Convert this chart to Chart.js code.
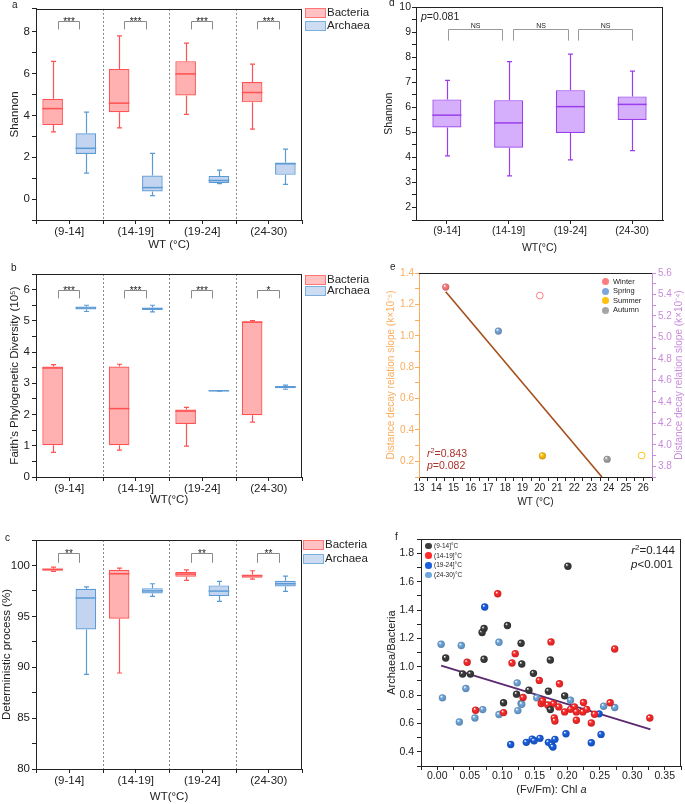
<!DOCTYPE html>
<html>
<head>
<meta charset="utf-8">
<script src="https://cdn.jsdelivr.net/npm/chart.js@4.4.1/dist/chart.umd.min.js"></script>
<style>
  body { margin: 0; background: #fff; font-family: 'Liberation Sans', Arial, sans-serif; }
  #fig { position: relative; width: 685px; height: 804px; overflow: hidden; }
  canvas { position: absolute; }
  .t { position: absolute; white-space: nowrap; color: #222; line-height: 1; transform: translateY(-50%); }
  .t sup { font-size: 70%; position: relative; top: -0.1em; vertical-align: top; line-height: 1; }
</style>
</head>
<body>
<div id="fig">
  <canvas id="ca" width="310" height="262" style="left:0;top:0"></canvas>
  <canvas id="cb" width="310" height="265" style="left:0;top:265px"></canvas>
  <canvas id="cc" width="310" height="274" style="left:0;top:530px"></canvas>
  <canvas id="cd" width="345" height="262" style="left:340px;top:0"></canvas>
  <canvas id="ce" width="345" height="265" style="left:340px;top:265px"></canvas>
  <canvas id="cf" width="345" height="274" style="left:340px;top:530px"></canvas>
</div>
<script>
// ---- data ----
const wtGroups = ['(9-14]', '(14-19]', '(19-24]', '(24-30)'];

// box summaries: [min, q1, median, q3, max]
const shannonBacteria = [[3.22, 3.54, 4.33, 4.80, 6.59], [3.41, 4.16, 4.59, 6.23, 7.81], [4.05, 4.96, 5.99, 6.60, 7.46], [3.35, 4.63, 5.10, 5.60, 6.46]];
const shannonArchaea = [[1.24, 2.16, 2.43, 3.15, 4.16], [0.17, 0.36, 0.55, 1.13, 2.19], [0.74, 0.77, 0.89, 1.11, 1.39], [0.70, 1.16, 1.69, 1.75, 2.39]];
const faithBacteria = [[0.79, 1.02, 3.49, 3.54, 3.60], [0.86, 1.02, 2.19, 3.54, 3.61], [0.99, 1.70, 2.11, 2.16, 2.23], [1.76, 1.98, 4.96, 4.98, 5.01]];
const faithArchaea = [[5.30, 5.36, 5.41, 5.46, 5.50], [5.29, 5.35, 5.39, 5.43, 5.50], [2.75, 2.755, 2.76, 2.765, 2.77], [2.81, 2.84, 2.88, 2.91, 2.94]];
const detBacteria = [[99.41, 99.48, 99.61, 99.71, 99.84], [89.43, 94.76, 99.18, 99.57, 99.74], [98.53, 98.89, 99.15, 99.35, 99.57], [98.66, 98.79, 98.99, 99.12, 99.48]];
const detArchaea = [[89.3, 93.7, 96.8, 97.7, 97.9], [96.96, 97.25, 97.5, 97.77, 98.2], [96.46, 96.99, 97.48, 98.04, 98.43], [97.45, 97.94, 98.2, 98.49, 98.95]];
const shannonAll = [[4.06, 5.20, 5.69, 6.32, 7.08], [3.26, 4.39, 5.38, 6.29, 7.83], [3.90, 4.98, 6.03, 6.69, 8.13], [4.27, 5.50, 6.12, 6.44, 7.45]];

const sigShannon = ['***', '***', '***', '***'];
const sigFaith = ['***', '***', '***', '*'];
const sigDet = ['**', '', '**', '**'];
const sigAll = ['NS', 'NS', 'NS'];

// panel e
const seasons = ['Winter', 'Spring', 'Summer', 'Autumn'];
const seasonWT = [14.55, 17.6, 20.15, 23.9];
const slopeBacteria = [1.31, 1.03, 0.235, 0.213];
const archaeaSeasonIdx = [0, 2];
const archaeaWT = [20.0, 25.9];
const slopeArchaea = [5.39, 3.90];
const fitWT = [14.55, 23.6];
const fitSlope = [1.28, 0.10];

// panel f
const chl9_14 = [0.013, 0.039, 0.051, 0.069, 0.072, 0.072, 0.102, 0.108, 0.129, 0.130, 0.122, 0.141, 0.148, 0.174, 0.171, 0.174, 0.196, 0.201];
const ratio9_14 = [1.062, 0.949, 0.949, 1.242, 1.270, 1.053, 0.746, 1.292, 1.166, 1.020, 0.807, 0.835, 0.954, 1.048, 0.828, 0.698, 0.795, 1.710];
const chl14_19 = [0.093, 0.046, 0.059, 0.102, 0.115, 0.120, 0.132, 0.157, 0.175, 0.188, 0.273, 0.327, 0.160, 0.162, 0.179, 0.187, 0.196, 0.180, 0.181, 0.225, 0.211, 0.214, 0.214, 0.224, 0.237, 0.242, 0.266, 0.170, 0.205, 0.230];
const ratio14_19 = [1.516, 1.032, 0.694, 0.677, 1.027, 1.093, 0.783, 0.904, 1.176, 0.880, 1.126, 0.639, 0.741, 0.760, 0.739, 0.717, 0.682, 0.639, 0.618, 0.748, 0.717, 0.682, 0.623, 0.682, 0.604, 0.665, 0.746, 0.730, 0.700, 0.700];
const chl19_24 = [0.073, 0.113, 0.137, 0.146, 0.149, 0.158, 0.171, 0.176, 0.178, 0.181, 0.198, 0.237, 0.252, 0.249];
const ratio19_24 = [1.422, 0.452, 0.467, 0.490, 0.478, 0.495, 0.467, 0.448, 0.434, 0.488, 0.528, 0.464, 0.523, 0.668];
const chl24_30 = [0.006, 0.008, 0.034, 0.037, 0.044, 0.058, 0.070, 0.095, 0.095, 0.123, 0.124, 0.129, 0.130, 0.153, 0.205, 0.256, 0.273, 0.172];
const ratio24_30 = [1.159, 0.781, 0.611, 1.150, 0.847, 0.639, 0.698, 1.173, 0.663, 0.887, 0.691, 0.741, 0.736, 0.781, 0.764, 0.722, 0.713, 0.720];
const fitChl = [0.006, 0.328];
const fitRatio = [1.008, 0.559];

// ---- styles ----
const ink = '#222';
const bac = { fill: 'rgba(255,100,100,0.5)', line: '#ff5252' };
const arc = { fill: 'rgba(120,160,220,0.45)', line: '#5b9bd5' };
const pur = { fill: 'rgba(180,110,250,0.55)', line: '#9a3deb' };
const orange = '#fbac5c';
const violet = '#c98bdb';
const seasonColors = ['#ff7c82', '#7ba7dd', '#ffc20e', '#a5a5a5'];
const groupColors = ['#3c3c3c', '#ff2a2a', '#1a5fe0', '#6fa8dc'];

Chart.defaults.font.family = "'Liberation Sans', Arial, sans-serif";
Chart.defaults.color = ink;

// ---- plugins ----
const boxPlugin = {
  id: 'boxes',
  afterDatasetsDraw(chart) {
    const ctx = chart.ctx;
    chart.data.datasets.forEach((ds, i) => {
      if (!ds.stats) return;
      const meta = chart.getDatasetMeta(i);
      const ys = chart.scales[meta.yAxisID];
      meta.data.forEach((bar, j) => {
        const p = ds.stats[j].map(v => ys.getPixelForValue(v));
        const x = Math.round(bar.x) + 0.5, hw = bar.width / 2;
        ctx.save();
        ctx.strokeStyle = ds.borderColor;
        ctx.lineWidth = 1.2;
        ctx.beginPath();
        ctx.moveTo(x, p[3]); ctx.lineTo(x, p[4]);
        ctx.moveTo(x, p[1]); ctx.lineTo(x, p[0]);
        ctx.moveTo(x - 2.5, p[4]); ctx.lineTo(x + 2.5, p[4]);
        ctx.moveTo(x - 2.5, p[0]); ctx.lineTo(x + 2.5, p[0]);
        ctx.stroke();
        ctx.lineWidth = 1.5;
        ctx.beginPath();
        ctx.moveTo(bar.x - hw, p[2]); ctx.lineTo(bar.x + hw, p[2]);
        ctx.stroke();
        ctx.restore();
      });
    });
  }
};

const sepPlugin = {
  id: 'separators',
  beforeDatasetsDraw(chart, args, opts) {
    if (!opts.show) return;
    const xs = chart.scales.x, a = chart.chartArea, ctx = chart.ctx;
    const n = chart.data.labels.length;
    ctx.save();
    ctx.strokeStyle = '#8a8a8a';
    ctx.lineWidth = 1;
    ctx.setLineDash([2, 2]);
    ctx.beginPath();
    for (let i = 1; i < n; i++) {
      const px = Math.round(xs.getPixelForValue(i - 0.5)) + 0.5;
      ctx.moveTo(px, a.top); ctx.lineTo(px, a.bottom);
    }
    ctx.stroke();
    ctx.setLineDash([]);
    ctx.strokeStyle = ink;
    ctx.beginPath();
    for (let i = 0; i <= n; i++) {
      const px = Math.round(xs.getPixelForValue(i - 0.5)) + 0.5;
      ctx.moveTo(px, a.bottom); ctx.lineTo(px, a.bottom + 4);
    }
    ctx.stroke();
    ctx.restore();
  }
};

const sigPlugin = {
  id: 'sig',
  afterDraw(chart, args, opts) {
    if (!opts.labels) return;
    const xs = chart.scales.x, ys = chart.scales.y, ctx = chart.ctx;
    const spans = opts.spans || opts.labels.map((_, j) => [j - 0.17, j + 0.15]);
    ctx.save();
    ctx.strokeStyle = opts.color || '#8a8a8a';
    ctx.fillStyle = '#222';
    ctx.lineWidth = 1;
    ctx.font = opts.font || "10px 'Liberation Sans', Arial, sans-serif";
    ctx.textAlign = 'center';
    ctx.textBaseline = 'alphabetic';
    opts.labels.forEach((lab, i) => {
      if (!lab) return;
      const x1 = Math.round(xs.getPixelForValue(spans[i][0])) + 0.5;
      const x2 = Math.round(xs.getPixelForValue(spans[i][1])) + 0.5;
      const yt = Math.round(ys.getPixelForValue(opts.top)) + 0.5;
      const yb = ys.getPixelForValue(opts.leg);
      ctx.beginPath();
      ctx.moveTo(x1, yb); ctx.lineTo(x1, yt); ctx.lineTo(x2, yt); ctx.lineTo(x2, yb);
      ctx.stroke();
      ctx.fillText(lab, (x1 + x2) / 2, yt + (opts.lift === undefined ? 3.5 : opts.lift));
    });
    ctx.restore();
  }
};

const framePlugin = {
  id: 'frame',
  afterDraw(chart, args, opts) {
    const a = chart.chartArea, ctx = chart.ctx;
    ctx.save();
    ctx.strokeStyle = ink;
    ctx.lineWidth = 1;
    ctx.beginPath();
    const top = Math.round(a.top) + 0.5, right = Math.round(a.right) - 0.5;
    ctx.moveTo(a.left, top); ctx.lineTo(a.right, top);
    if (opts.right !== false) { ctx.moveTo(right, a.top); ctx.lineTo(right, a.bottom); }
    ctx.stroke();
    ctx.restore();
  }
};

const sideTitlePlugin = {
  id: 'sideTitle',
  afterDraw(chart, args, opts) {
    if (!opts.text) return;
    const a = chart.chartArea, ctx = chart.ctx;
    ctx.save();
    ctx.translate(opts.x, (a.top + a.bottom) / 2);
    ctx.rotate(-Math.PI / 2);
    ctx.fillStyle = opts.color;
    ctx.font = opts.font;
    ctx.textAlign = 'center';
    ctx.textBaseline = 'middle';
    ctx.fillText(opts.text, 0, 0);
    ctx.restore();
  }
};

Chart.register(boxPlugin, sepPlugin, sigPlugin, framePlugin, sideTitlePlugin);

// ---- helpers ----
function fixWidth(w) { return s => { s.width = w; }; }
function fixHeight(h) { return s => { s.height = h; }; }

function linAxis(o) {
  const col = o.color || ink;
  return {
    type: 'linear',
    position: o.position || 'left',
    min: o.min, max: o.max,
    border: { display: true, color: col, width: 1 },
    grid: { display: true, drawOnChartArea: false, drawTicks: true, tickLength: 4, tickColor: col },
    ticks: {
      stepSize: o.step, autoSkip: false, maxRotation: 0, padding: o.pad === undefined ? 2 : o.pad,
      color: col, font: { size: o.size },
      callback: v => {
        const k = v / o.every;
        if (Math.abs(k - Math.round(k)) > 1e-6) return '';
        return (Math.abs(v) < 1e-9 ? 0 : v).toFixed(o.digits);
      }
    },
    title: { display: !!o.title, text: o.title, color: col, font: { size: o.tsize || o.size }, padding: { top: o.titlePad || 0, bottom: o.titlePad || 0 } },
    afterFit: o.position === 'bottom' ? fixHeight(o.fit) : fixWidth(o.fit)
  };
}

function catAxis(title, titlePad, fit, size) {
  return {
    type: 'category', position: 'bottom', offset: true,
    border: { display: true, color: ink, width: 1 },
    grid: { display: true, offset: false, drawOnChartArea: false, drawTicks: true, tickLength: 4, tickColor: ink },
    ticks: { padding: 1, font: { size: size }, maxRotation: 0, autoSkip: false, color: ink },
    title: { display: true, text: title, color: ink, font: { size: size }, padding: { top: 0, bottom: titlePad } },
    afterFit: fixHeight(fit)
  };
}

function boxSet(label, stats, col, barPct) {
  return {
    label: label,
    data: stats.map(s => [s[1], s[3]]),
    stats: stats,
    backgroundColor: col.fill,
    borderColor: col.line,
    borderWidth: 1.2,
    borderSkipped: false,
    categoryPercentage: 1.0,
    barPercentage: barPct
  };
}

function baseOptions(o) {
  return {
    responsive: false,
    animation: false,
    events: [],
    layout: { padding: o.padding },
    scales: o.scales,
    plugins: Object.assign({ legend: { display: false }, tooltip: { enabled: false } }, o.plugins || {})
  };
}

function darker(hex, f) {
  const n = parseInt(hex.slice(1), 16);
  return `rgb(${Math.round(((n >> 16) & 255) * f)},${Math.round(((n >> 8) & 255) * f)},${Math.round((n & 255) * f)})`;
}

function sphere(color, r) {
  return c => {
    const ch = c.chart;
    if (c.type !== 'data' || !ch.chartArea || !c.raw) return color;
    const ds = ch.data.datasets[c.datasetIndex];
    const xs = ch.scales[ds.xAxisID || 'x'], ys = ch.scales[ds.yAxisID || 'y'];
    const px = xs.getPixelForValue(c.raw.x), py = ys.getPixelForValue(c.raw.y);
    if (!isFinite(px) || !isFinite(py)) return color;
    const g = ch.ctx.createRadialGradient(px - r * 0.35, py - r * 0.4, r * 0.05, px, py, r);
    g.addColorStop(0, '#ffffff');
    g.addColorStop(0.35, color);
    g.addColorStop(1, darker(color, 0.8));
    return g;
  };
}

function points(xs, ys) { return xs.map((x, i) => ({ x: x, y: ys[i] })); }

// ---- a ----
new Chart(document.getElementById('ca'), {
  type: 'bar',
  data: { labels: wtGroups, datasets: [boxSet('Bacteria', shannonBacteria, bac, 0.62), boxSet('Archaea', shannonArchaea, arc, 0.62)] },
  options: baseOptions({
    padding: { left: 0, right: 8, top: 5, bottom: 0 },
    scales: {
      x: catAxis('WT (°C)', 10, 42, 11.5),
      y: linAxis({ min: -1, max: 9.1, step: 1, every: 2, digits: 0, title: 'Shannon', titlePad: 8, fit: 36, size: 11.5 })
    },
    plugins: { separators: { show: true }, sig: { labels: sigShannon, top: 8.54, leg: 8.12 } }
  })
});

// ---- b ----
new Chart(document.getElementById('cb'), {
  type: 'bar',
  data: { labels: wtGroups, datasets: [boxSet('Bacteria', faithBacteria, bac, 0.62), boxSet('Archaea', faithArchaea, arc, 0.62)] },
  options: baseOptions({
    padding: { left: 0, right: 8, top: 9, bottom: 0 },
    scales: {
      x: catAxis('WT(°C)', 23, 53, 11.5),
      y: linAxis({ min: 0, max: 6.5, step: 0.5, every: 1, digits: 0, title: "Faith's Phylogenetic Diversity (10⁵)", titlePad: 8, fit: 36, size: 11.5 })
    },
    plugins: { separators: { show: true }, sig: { labels: sigFaith, top: 6.0, leg: 5.72 } }
  })
});

// ---- c ----
new Chart(document.getElementById('cc'), {
  type: 'bar',
  data: { labels: wtGroups, datasets: [boxSet('Bacteria', detBacteria, bac, 0.62), boxSet('Archaea', detArchaea, arc, 0.62)] },
  options: baseOptions({
    padding: { left: 0, right: 8, top: 10, bottom: 0 },
    scales: {
      x: catAxis('WT(°C)', 0, 35, 11.5),
      y: linAxis({ min: 80, max: 102.5, step: 2.5, every: 5, digits: 0, title: 'Deterministic process (%)', titlePad: 0, fit: 36, size: 11.5 })
    },
    plugins: { separators: { show: true }, sig: { labels: sigDet, top: 101.24, leg: 100.26 } }
  })
});

// ---- d ----
new Chart(document.getElementById('cd'), {
  type: 'bar',
  data: { labels: wtGroups, datasets: [boxSet('Shannon', shannonAll, pur, 0.47)] },
  options: baseOptions({
    padding: { left: 0, right: 22, top: 7, bottom: 0 },
    scales: {
      x: catAxis('WT(°C)', 8, 42, 10.5),
      y: linAxis({ min: 1.5, max: 10, step: 0.5, every: 1, digits: 0, title: 'Shannon', titlePad: 43, fit: 76, size: 10.5, pad: 1 })
    },
    plugins: {
      sig: {
        labels: sigAll, top: 9.12, leg: 8.67, color: '#9a9a9a', lift: -1.5,
        font: "7px 'Liberation Sans', Arial, sans-serif",
        spans: [[0.02, 0.89], [1.07, 1.96], [2.12, 3.0]]
      }
    }
  })
});

// ---- e ----
const eSets = seasons.map((s, i) => ({
  label: s,
  data: [{ x: seasonWT[i], y: slopeBacteria[i] }],
  yAxisID: 'y',
  pointRadius: 3.6,
  pointBorderWidth: 0,
  pointBackgroundColor: sphere(seasonColors[i], 3.6)
}));
archaeaSeasonIdx.forEach((si, k) => {
  eSets.push({
    label: seasons[si] + ' (Archaea)',
    data: [{ x: archaeaWT[k], y: slopeArchaea[k] }],
    yAxisID: 'y2',
    pointRadius: 3.4,
    pointBorderWidth: 1,
    pointBorderColor: seasonColors[si],
    pointBackgroundColor: 'rgba(255,255,255,0)'
  });
});
eSets.unshift({
  type: 'line',
  label: 'fit',
  data: points(fitWT, fitSlope),
  yAxisID: 'y',
  borderColor: '#a4501a',
  borderWidth: 1.6,
  pointRadius: 0
});

new Chart(document.getElementById('ce'), {
  type: 'scatter',
  data: { datasets: eSets },
  options: baseOptions({
    padding: { left: 0, right: 0, top: 8, bottom: 0 },
    scales: {
      x: linAxis({ position: 'bottom', min: 13, max: 26.5, step: 0.5, every: 1, digits: 0, title: 'WT (°C)', titlePad: 22, fit: 53, size: 10, pad: 1 }),
      y: linAxis({ min: 0.1, max: 1.4, step: 0.1, every: 0.2, digits: 1, title: 'Distance decay relation slope (k×10⁻⁵)', titlePad: 45.7, fit: 79, size: 10, color: orange, pad: 1 }),
      y2: linAxis({ position: 'right', min: 3.7, max: 5.6, step: 0.1, every: 0.2, digits: 1, fit: 33, size: 10, color: violet, pad: 2 })
    },
    plugins: {
      frame: { right: false },
      sideTitle: { text: 'Distance decay relation slope (k×10⁻⁴)', x: 339, color: violet, font: "10px 'Liberation Sans', Arial, sans-serif" }
    }
  })
});

// ---- f ----
const fSeries = [[chl9_14, ratio9_14], [chl14_19, ratio14_19], [chl19_24, ratio19_24], [chl24_30, ratio24_30]];
const fSets = fSeries.map((s, i) => ({
  label: wtGroups[i] + '°C',
  data: points(s[0], s[1]),
  pointRadius: 3.7,
  pointBorderWidth: 0,
  pointBackgroundColor: sphere(groupColors[i], 3.7)
}));
fSets.push({
  type: 'line',
  label: 'fit',
  data: points(fitChl, fitRatio),
  borderColor: '#5c2a70',
  borderWidth: 1.8,
  pointRadius: 0
});

new Chart(document.getElementById('cf'), {
  type: 'scatter',
  data: { datasets: fSets },
  options: baseOptions({
    padding: { left: 0, right: 3, top: 8, bottom: 0 },
    scales: {
      x: linAxis({ position: 'bottom', min: -0.025, max: 0.375, step: 0.025, every: 0.05, digits: 2, fit: 38, size: 10.5, pad: 0 }),
      y: linAxis({ min: 0.3, max: 1.9, step: 0.1, every: 0.2, digits: 1, title: 'Archaea/Bacteria', titlePad: 45.4, fit: 81, size: 10.5, tsize: 11, pad: 3 })
    }
  })
});

// ---- text overlays ----
const fig = document.getElementById('fig');
function put(html, x, y, style) {
  const d = document.createElement('div');
  d.className = 't';
  d.innerHTML = html;
  d.style.left = x + 'px';
  d.style.top = y + 'px';
  if (style) d.style.cssText += style;
  fig.appendChild(d);
  return d;
}

function boxLegend(x, yb, ya) {
  [['Bacteria', yb, bac], ['Archaea', ya, arc]].forEach(([name, y, col]) => {
    put('', x, y, `width:19px;height:8px;background:${col.fill};border:1px solid ${col.line};opacity:0.8;transform:none;`);
    put(name, x + 22, y + 5, 'font-size:11.5px;');
  });
}
boxLegend(305, 8, 20.5);
boxLegend(305, 275, 286);
boxLegend(303, 539.5, 553.5);

// panel letters
[['a', 12, 5], ['b', 11, 268], ['c', 5, 538], ['d', 389, 3], ['e', 390, 267], ['f', 395, 537]].forEach(l => put(l[0], l[1], l[2], 'font-size:10px;'));

// d note
put('<i>p</i>=0.081', 421, 16, 'font-size:10.5px;');

// e legend and notes
seasons.forEach((s, i) => {
  const y = 281.7 + i * 9.5;
  put('', 601.5, y - 3.5, `width:7px;height:7px;border-radius:50%;background:${seasonColors[i]};transform:none;`);
  put(s, 613, y, 'font-size:7.5px;');
});
put('<i>r</i><sup>2</sup>=0.843', 427, 452.5, 'font-size:10.5px;color:#a8322c;');
put('<i>p</i>=0.082', 427, 464.5, 'font-size:10.5px;color:#a8322c;');

// f legend and notes
wtGroups.forEach((g, i) => {
  const y = 546 + i * 9.7;
  put('', 425, y - 3.3, `width:6.6px;height:6.6px;border-radius:50%;background:${groupColors[i]};transform:none;`);
  put(g + '°C', 434, y, 'font-size:6.5px;');
});
put('<i>r</i><sup>2</sup>=0.144', 675, 550.5, 'font-size:11.5px;transform:translate(-100%,-50%);');
put('<i>p</i>&lt;0.001', 673, 565, 'font-size:11.5px;transform:translate(-100%,-50%);');
put('(Fv/Fm): Chl <i>a</i>', 551.5, 789, 'font-size:11px;transform:translate(-50%,-50%);');
</script>
</body>
</html>
